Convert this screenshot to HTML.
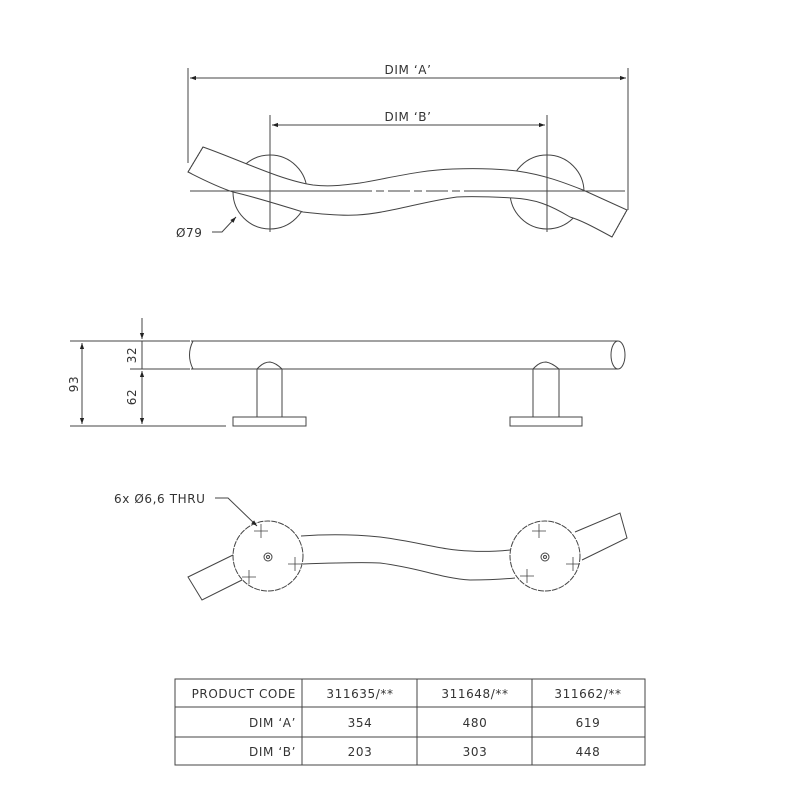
<!DOCTYPE html>
<html><head><meta charset="utf-8"><style>
html,body{margin:0;padding:0;background:#fff}
svg{display:block}
text{font-family:"DejaVu Sans","Liberation Sans",sans-serif;font-size:12px;fill:#333;letter-spacing:0.6px}
</style></head><body>
<svg width="800" height="800" viewBox="0 0 800 800" xmlns="http://www.w3.org/2000/svg">
<defs>
<marker id="ar" viewBox="0 0 10 10" refX="10" refY="5" markerWidth="9" markerHeight="6" orient="auto-start-reverse" markerUnits="userSpaceOnUse"><path d="M0,1.5 L10,5 L0,8.5 Z" fill="#222"/></marker>
</defs>
<g stroke="#444" stroke-width="1" fill="none">
<!-- TOP VIEW -->
<line x1="188" y1="68" x2="188" y2="163"/>
<line x1="628" y1="68" x2="628" y2="210"/>
<line x1="190" y1="78" x2="626" y2="78" marker-start="url(#ar)" marker-end="url(#ar)"/>
<line x1="270" y1="115" x2="270" y2="232"/>
<line x1="547" y1="115" x2="547" y2="232"/>
<line x1="272" y1="125" x2="545" y2="125" marker-start="url(#ar)" marker-end="url(#ar)"/>
<circle cx="270" cy="192" r="37"/>
<circle cx="547" cy="192" r="37"/>
<path d="M203,147 C240,160 280,180 313,185 C330,187 345,185 360,183 C390,178 420,170 453,169 C480,168 500,169 517,171 C545,175 565,183 583,190 L627,210 L612,237 C590,225 580,220 570,217 C550,205 535,199 513,198 C495,197 475,196 457,197 C420,202 390,213 357,215 C340,216 320,214 303,212 C280,205 255,197 233,192 C215,186 200,178 188,172 Z" fill="#fff"/>
<line x1="190" y1="191" x2="350" y2="191"/>
<line x1="350" y1="191" x2="470" y2="191" stroke-dasharray="22,4,8,4"/>
<line x1="470" y1="191" x2="625" y2="191"/>
<line x1="270" y1="150" x2="270" y2="232"/>
<line x1="547" y1="150" x2="547" y2="232"/>
<line x1="203" y1="147" x2="188" y2="172" stroke-dasharray="2,1"/>
<line x1="627" y1="210" x2="612" y2="237" stroke-dasharray="2,1"/>
<path d="M212,232 L222,232 L236,217" marker-end="url(#ar)"/>
<!-- SIDE VIEW -->
<line x1="70" y1="341" x2="190" y2="341"/>
<line x1="130" y1="369" x2="190" y2="369"/>
<line x1="70" y1="426" x2="226" y2="426"/>
<line x1="82" y1="343" x2="82" y2="424" marker-start="url(#ar)" marker-end="url(#ar)"/>
<line x1="142" y1="318" x2="142" y2="339" marker-end="url(#ar)"/>
<line x1="142" y1="341" x2="142" y2="369"/>
<line x1="142" y1="371" x2="142" y2="424" marker-start="url(#ar)" marker-end="url(#ar)"/>
<line x1="191" y1="341" x2="618" y2="341"/>
<line x1="191" y1="369" x2="618" y2="369"/>
<path d="M193,341 Q186,355 193,369"/>
<ellipse cx="618" cy="355" rx="7" ry="14"/>
<path d="M257,417 L257,369 L259,367 Q264,362 270,362 Q276,363 282,369 L282,417"/>
<rect x="233" y="417" width="73" height="9"/>
<path d="M533,417 L533,369 L535,367 Q540,362 546,362 Q552,363 559,369 L559,417"/>
<rect x="510" y="417" width="72" height="9"/>
<!-- BOTTOM VIEW -->
<path d="M233,555 L188,577 L202,600 L242,580"/>
<path d="M575,532 L620,513 L627,538 L582,560"/>
<circle cx="268" cy="556" r="35" stroke-dasharray="6,1"/>
<circle cx="545" cy="556" r="35" stroke-dasharray="6,1"/>
<path d="M301,536 C330,534 360,535 380,537 C420,542 440,550 470,551 C485,552 500,551 510,550"/>
<path d="M303,564 C330,563 360,562 380,563 C420,568 440,578 470,580 C490,580 505,579 515,578"/>
<circle cx="268" cy="557" r="4"/><circle cx="268" cy="557" r="1.5"/>
<circle cx="545" cy="557" r="4"/><circle cx="545" cy="557" r="1.5"/>
<g stroke-width="0.8">
<path d="M254,531h14M261,524v14M288,564h14M295,557v14M242,577h14M249,570v14"/>
<path d="M532,531h14M539,524v14M566,564h14M573,557v14M520,576h14M527,569v14"/>
</g>
<path d="M215,498 L228,498 L257,526" marker-end="url(#ar)"/>
<!-- TABLE -->
<rect x="175" y="679" width="470" height="86"/>
<line x1="175" y1="707" x2="645" y2="707"/>
<line x1="175" y1="737" x2="645" y2="737"/>
<line x1="302" y1="679" x2="302" y2="765"/>
<line x1="417" y1="679" x2="417" y2="765"/>
<line x1="532" y1="679" x2="532" y2="765"/>
</g>
<text x="408" y="74" text-anchor="middle">DIM ‘A’</text>
<text x="408" y="121" text-anchor="middle">DIM ‘B’</text>
<text x="176" y="237">Ø79</text>
<text x="78" y="384" text-anchor="middle" transform="rotate(-90 78 384)">93</text>
<text x="136" y="355" text-anchor="middle" transform="rotate(-90 136 355)">32</text>
<text x="136" y="397" text-anchor="middle" transform="rotate(-90 136 397)">62</text>
<text x="114" y="503">6x Ø6,6 THRU</text>
<text x="296" y="698" text-anchor="end">PRODUCT CODE</text>
<text x="360" y="698" text-anchor="middle">311635/**</text>
<text x="475" y="698" text-anchor="middle">311648/**</text>
<text x="588" y="698" text-anchor="middle">311662/**</text>
<text x="296" y="727" text-anchor="end">DIM ‘A’</text>
<text x="360" y="727" text-anchor="middle">354</text>
<text x="475" y="727" text-anchor="middle">480</text>
<text x="588" y="727" text-anchor="middle">619</text>
<text x="296" y="756" text-anchor="end">DIM ‘B’</text>
<text x="360" y="756" text-anchor="middle">203</text>
<text x="475" y="756" text-anchor="middle">303</text>
<text x="588" y="756" text-anchor="middle">448</text>
</svg>
</body></html>
